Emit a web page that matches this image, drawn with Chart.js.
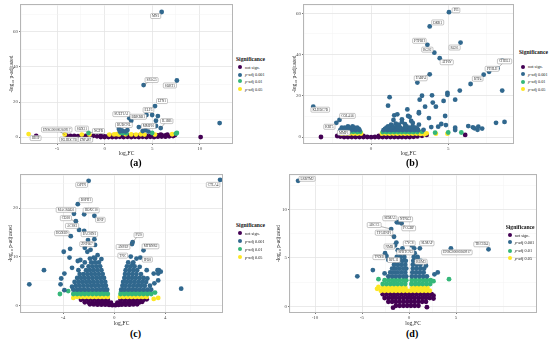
<!DOCTYPE html>
<html>
<head>
<meta charset="utf-8">
<script src="https://cdn.jsdelivr.net/npm/chart.js@4.4.0/dist/chart.umd.min.js"></script>
<style>
  body { margin: 0; width: 550px; height: 341px; background: #fff; position: relative; overflow: hidden;
         font-family: "Liberation Serif", "DejaVu Serif", serif; }
  canvas { position: absolute; }
  .lg-title { position: absolute; font-weight: bold; font-size: 5.6px; line-height: 6px; color: #111; white-space: nowrap; }
  .lg-item { position: absolute; font-size: 4.3px; line-height: 5px; color: #222; white-space: nowrap; }
  .lg-dot { position: absolute; width: 4.4px; height: 4.4px; border-radius: 50%; }
  .cap { position: absolute; font-weight: bold; font-size: 10px; line-height: 11px; color: #000; }
</style>
</head>
<body>
<canvas id="chartA"></canvas>
<canvas id="chartB"></canvas>
<canvas id="chartC"></canvas>
<canvas id="chartD"></canvas>

<script>
// legend / colours
const sigLabels = ['not sign.', 'p-adj 0.001', 'p-adj 0.01', 'p-adj 0.05'];
const sigColors = ['#440154', '#31688e', '#35b779', '#fde725'];

// ---- panel (a) : x,y pairs ----
const aNotSig = [-4.0,0.8, -3.6,0.6, -3.2,0.7, -2.8,0.5, -2.4,0.8, -2.0,0.6, -1.6,0.5, -1.2,0.7, -0.8,0.4,
  -0.4,0, -0.4,0.6, 0,0, 0,0.4, 0.4,0, 0.4,0.6, 0.8,0, 0.8,0.7, 1.2,0, 1.2,0.8, 1.6,0.1, 1.6,0.9,
  2.0,0, 2.0,0.8, 2.4,0.1, 2.4,0.9, 2.8,0, 2.8,0.7, 3.2,0.1, 3.2,0.9, 3.6,0, 3.6,0.7, 4.0,0.1, 4.0,0.8,
  4.4,0, 4.4,0.6, 4.8,0.1, 4.8,0.7, 5.2,0, 5.2,0.8, 5.6,0.2, 5.6,0.9, 6.0,0.3, 6.0,1.1, 6.4,0.2, 6.4,0.9,
  6.8,0.4, 7.2,0.6, 7.4,1.1, 5.9,1.4, 6.6,1.3, 10.1,0, -7.2,0.6, -2.7,0.3];
const aP001 = [6.0,71.4, 4.1,29.7, 7.6,32.3, 5.3,17.7, 4.4,12.6, 5.0,12.6, 5.6,12.0, 2.6,10.8, 2.8,9.3,
  5.4,9.3, 5.4,6.3, 5.9,5.1, 3.6,5.7, 4.0,3.4, 4.3,4.0, 1.5,4.6, 2.4,4.0, 12.1,8.0, 1.6,3.2, 1.9,3.4,
  2.2,3.2, 1.8,3.8, 4.6,3.1];
const aP01 = [5.0,2.3, 7.6,2.3, -1.7,2.3, 1.9,2.2, 2.1,2.6, 1.7,2.4, 2.3,2.1, 7.5,2.0];
const aP05 = [-8.0,1.7, -4.2,1.4, -2.4,1.4, -1.6,1.4, 0.5,1.4, 1.0,1.5, 1.3,1.7, 1.5,1.4, 2.2,1.6, 2.8,1.5,
  3.3,1.4, 3.8,1.6, 4.2,1.4, 5.3,1.4, 7.1,1.6];
const aGenes = ['MN1', 'SPAG5', 'SORT1', 'LTN1', 'ELF3', 'SULT1A1', 'BDKRB1', 'IL1RB', 'RUBCNL', 'MMP10',
  'ENSG00000260917', 'SOX21', 'NGFR', 'HHIP', 'KLHDC7B', 'ZNF487'];
const aGeneXY = [6.0,71.4, 4.1,29.7, 7.6,32.3, 5.3,17.7, 4.4,12.6, 2.6,10.8, 2.8,9.3, 5.9,5.1, 1.5,4.6, 4.3,4.0,
  -4.2,1.4, -2.4,1.4, -1.7,2.3, -8.0,1.7, -2.7,0.3, -1.6,1.4];

// ---- panel (b) ----
const bNotSig = [-2.0,0.2, -2.0,0.9, -1.75,0, -1.75,0.6, -1.75,1.2, -1.5,0, -1.5,0.6, -1.5,1.2, -1.25,0,
  -1.25,0.6, -1.25,1.2, -1.0,0, -1.0,0.6, -1.0,1.2, -0.75,0, -0.75,0.6, -0.75,1.1, -0.5,0, -0.5,0.5,
  -0.25,0, 0,-0.1, 0.25,0, 0.5,0, 0.5,0.5, 0.75,0, 0.75,0.6, 0.75,1.1, 1.0,0, 1.0,0.6, 1.0,1.2, 1.25,0,
  1.25,0.6, 1.25,1.2, 1.5,0, 1.5,0.6, 1.5,1.2, 1.75,0, 1.75,0.6, 1.75,1.2, 2.0,0, 2.0,0.6, 2.0,1.2,
  2.25,0, 2.25,0.6, 2.25,1.2, 2.5,0, 2.5,0.6, 2.5,1.2, 2.75,0.1, 2.75,0.7, 2.75,1.2, 3.0,0.3, 3.0,0.9,
  3.3,0.6, 3.6,1.0, -3.25,0, 6.1,1.0, -2.2,0.5];
const bP001 = [5.05,60.5, 3.8,53.6, 3.65,44.7, 5.8,45.8, 4.1,40.9, 4.45,38.2, 3.8,30.4, 3.0,26.4, 8.5,37.0,
  8.2,33.3, 7.65,31.6, 7.3,30.2, 6.45,25.7, 8.5,22.5, 5.75,22.5, 4.95,21.4, 4.95,20.5, 1.2,19.3, 3.95,20.2,
  3.3,20.0, 3.15,18.1, 5.45,18.1, 4.7,17.5, 4.0,16.7, 1.1,15.2, 3.5,14.7, 2.35,13.4, 4.2,14.7, 3.1,12.1,
  3.1,11.5, 1.5,10.5, 2.4,10.2, 2.5,9.8, 4.8,10.2, 3.75,9.2, 2.0,8.6, 1.45,8.3, 1.6,6.5, 4.55,6.3, 4.85,5.8,
  4.35,5.0, 5.45,4.5, 5.45,3.4, 6.3,5.3, 6.6,4.7, 6.7,4.2, 6.95,5.0, 7.2,4.1, 6.9,3.5, 8.1,6.9, 8.65,7.3,
  -2.25,6.9, -2.05,8.3, -3.75,14.7, -1.9,4.5, 1.7,11.0, 2.6,7.8, 2.0,7.3, 2.7,6.8, 2.2,6.2, 3.9,4.8, 3.4,3.5,
  -2.0,3.3, -1.75,3.3, -1.5,3.3, -1.25,3.3, -1.0,3.3, -0.75,3.3, -1.9,3.9, -1.6,3.9, -1.3,3.9, -1.0,3.9,
  -0.8,3.9, -1.7,4.5, -1.4,4.5, -1.1,4.5, -0.9,4.5, -1.5,5.1, -1.2,5.1,
  0.8,3.3, 1.05,3.3, 1.3,3.3, 1.55,3.3, 1.8,3.3, 2.05,3.3, 2.3,3.3, 2.55,3.3, 2.8,3.3, 3.05,3.3,
  0.9,3.9, 1.2,3.9, 1.5,3.9, 1.8,3.9, 2.1,3.9, 2.4,3.9, 2.7,3.9, 3.0,3.9, 1.0,4.5, 1.3,4.5, 1.6,4.5,
  1.9,4.5, 2.2,4.5, 2.5,4.5, 2.9,4.5, 1.1,5.2, 1.4,5.2, 1.7,5.2, 2.3,5.2, 2.7,5.2, 1.3,6.0, 1.8,6.0, 3.1,6.0];
const bP01 = [-1.9,2.4, -1.65,2.5, -1.4,2.4, -1.15,2.5, -0.9,2.4, -0.7,2.5, -1.8,2.8, -1.5,2.9, -1.2,2.8,
  -0.9,2.9, 0.75,2.4, 1.0,2.4, 1.25,2.4, 1.5,2.4, 1.75,2.4, 2.0,2.4, 2.25,2.4, 2.5,2.4, 2.75,2.4, 3.0,2.4,
  0.85,2.8, 1.15,2.8, 1.45,2.8, 1.75,2.8, 2.05,2.8, 2.35,2.8, 2.65,2.8, 4.15,2.1, 5.0,2.2, 5.85,2.2, 3.3,2.6];
const bP05 = [-1.9,1.6, -1.65,1.7, -1.4,1.6, -1.15,1.7, -0.9,1.6, -0.65,1.7, 0.7,1.6, 0.95,1.7, 1.2,1.6,
  1.45,1.7, 1.7,1.6, 1.95,1.7, 2.2,1.6, 2.45,1.7, 2.7,1.6, 2.95,1.7, 3.2,1.5, 3.45,1.3, 4.2,1.6, 4.95,1.6, 3.6,1.8];
const bGenes = ['PI3', 'DKK1', 'PTPRH', 'RGS2', 'RGS1', 'ATP6V', 'FABP4', 'CHI3L1', 'PTHLH', 'RTP4',
  'KLHDC7B', 'COL4A6', 'KRT5', 'MMP1'];
const bGeneXY = [5.05,60.5, 3.8,53.6, 3.65,44.7, 4.1,40.9, 5.8,45.8, 4.45,38.2, 3.8,30.4, 8.2,33.3, 7.65,31.6,
  7.3,30.2, -3.75,14.7, -2.05,8.3, -2.25,6.9, -1.9,4.5];

// ---- panel (c) ----
const cNotSig = [-2.6,1.1, -2.3,1.1, -2.0,1.1, -1.7,1.1, -1.4,1.1, -1.1,1.1, -0.8,1.1, -0.5,1.1, 0.5,1.1,
  0.8,1.1, 1.1,1.1, 1.4,1.1, 1.7,1.1, 2.0,1.1, 2.3,1.1, 2.55,1.2,
  -2.3,0.6, -2.0,0.6, -1.7,0.6, -1.4,0.6, -1.1,0.6, -0.8,0.6, -0.5,0.6, -0.25,0.5, 0.25,0.5, 0.5,0.6,
  0.8,0.6, 1.1,0.6, 1.4,0.6, 1.7,0.6, 2.0,0.6, 2.2,0.7,
  -1.9,0.2, -1.6,0.15, -1.3,0.1, -1.0,0.1, -0.7,0.1, -0.4,0.05, -0.15,0, 0.1,0, 0.35,0.05, 0.6,0.1,
  0.9,0.1, 1.2,0.1, 1.5,0.15, 1.8,0.2];
const cP001 = [-2.0,25.6, 8.3,25.8, -2.85,20.8, -3.15,18.8, -2.35,18.7, -1.55,18.4, -3.0,17.3, -2.75,15.5,
  -2.35,15.3, -1.95,14.6, -3.4,14.2, -1.55,13.6, -2.05,13.4, -3.95,11.0, -3.45,11.6, -5.5,7.2, -6.65,4.3,
  5.25,3.4, 1.45,13.0, 1.4,12.6, 2.3,11.3, 2.05,9.8, 1.3,10.0, 3.4,7.2, 3.45,6.5,
  -3.5,9.8, -3.3,7.7, -3.9,6.5, -4.15,5.5, -4.2,4.3, -3.9,3.1, -3.3,3.8, -2.85,9.1, -2.65,9.3, -2.1,11.0,
  -1.85,11.4, -1.5,12.4, -2.3,11.8, -1.3,10.3, -1.0,9.5, -1.6,9.8,
  1.75,9.6, 2.55,7.2, 3.1,6.5, 2.0,7.9, 1.45,8.6, 3.45,5.1, 3.15,4.5, 2.6,5.5, 3.65,6.9, 3.5,7.2,
  -3.2,3.2, -2.9,3.2, -2.6,3.2, -2.3,3.2, -2.0,3.2, -1.7,3.2, -1.4,3.2, -1.1,3.2, -0.8,3.2, -0.55,3.2,
  -3.0,4.0, -2.7,4.0, -2.4,4.0, -2.1,4.0, -1.8,4.0, -1.5,4.0, -1.2,4.0, -0.9,4.0, -0.65,4.0,
  -3.1,4.8, -2.8,4.8, -2.5,4.8, -2.2,4.8, -1.9,4.8, -1.6,4.8, -1.3,4.8, -1.0,4.8, -0.7,4.8,
  -2.9,5.6, -2.6,5.6, -2.3,5.6, -2.0,5.6, -1.7,5.6, -1.4,5.6, -1.1,5.6, -0.8,5.6,
  -2.7,6.4, -2.4,6.4, -2.1,6.4, -1.8,6.4, -1.5,6.4, -1.2,6.4, -0.9,6.4,
  -2.8,7.2, -2.2,7.2, -1.9,7.2, -1.6,7.2, -1.3,7.2, -1.0,7.2,
  -2.5,8.0, -2.0,8.0, -1.7,8.0, -1.4,8.0, -1.1,8.0, -2.3,8.8, -1.8,8.8, -1.5,8.8, -1.2,8.8, -1.9,9.6, -1.5,9.6,
  0.55,3.2, 0.8,3.2, 1.1,3.2, 1.4,3.2, 1.7,3.2, 2.0,3.2, 2.3,3.2, 2.6,3.2, 2.9,3.2,
  0.65,4.0, 0.9,4.0, 1.2,4.0, 1.5,4.0, 1.8,4.0, 2.1,4.0, 2.4,4.0, 2.8,4.0,
  0.7,4.8, 1.0,4.8, 1.3,4.8, 1.6,4.8, 1.9,4.8, 2.2,4.8, 2.5,4.8,
  0.8,5.6, 1.1,5.6, 1.4,5.6, 1.7,5.6, 2.0,5.6, 2.3,5.6, 0.85,6.4, 1.15,6.4, 1.45,6.4, 1.75,6.4, 2.1,6.4,
  0.9,7.2, 1.2,7.2, 1.5,7.2, 1.8,7.2, 1.0,8.0, 1.3,8.0, 1.6,8.0, 1.1,8.8, 1.5,8.8];
const cP01 = [-3.2,2.3, -2.9,2.3, -2.6,2.3, -2.3,2.3, -2.0,2.3, -1.7,2.3, -1.4,2.3, -1.1,2.3, -0.8,2.3, -0.5,2.3,
  -3.0,2.8, -2.7,2.8, -2.4,2.8, -2.1,2.8, -1.8,2.8, -1.5,2.8, -1.2,2.8, -0.9,2.8, -0.6,2.8,
  0.5,2.3, 0.8,2.3, 1.1,2.3, 1.4,2.3, 1.7,2.3, 2.0,2.3, 2.3,2.3, 2.6,2.3, 2.9,2.3,
  0.55,2.8, 0.85,2.8, 1.15,2.8, 1.45,2.8, 1.75,2.8, 2.05,2.8, 2.35,2.8, 2.7,2.8, -4.25,2.3, -3.6,2.9, 3.2,2.6];
const cP05 = [-2.9,1.7, -2.6,1.7, -2.3,1.7, -2.0,1.7, -1.7,1.7, -1.4,1.7, -1.1,1.7, -0.8,1.7, -0.5,1.7,
  0.45,1.7, 0.75,1.7, 1.05,1.7, 1.35,1.7, 1.65,1.7, 1.95,1.7, 2.25,1.7, 2.55,1.7, -3.2,1.5, 3.1,1.3, 3.45,1.5];
const cGenes = ['OPTN', 'CTLA4', 'BSPH1', 'MACROD2', 'HOXC10', 'CD38', 'BNP', 'ACSS3', 'HOXB9', 'PACSIN1',
  'ZNF667', 'FUS', 'ANPEP', 'MTRNR2', 'TNC', 'IPO8'];
const cGeneXY = [-2.0,25.6, 8.3,25.8, -2.85,20.8, -3.15,18.8, -2.35,18.7, -3.0,17.3, -1.55,18.4, -2.75,15.5,
  -3.4,14.2, -1.55,13.6, -2.05,13.4, 1.45,13.0, 1.4,12.6, 2.3,11.3, 1.3,10.0, 2.05,9.8];

// ---- panel (d) ----
const dNotSig = [-2.8,1.25, -2.4,1.25, -2.0,1.25, -1.6,1.25, -1.2,1.25, -0.8,1.25, -0.4,1.25, 0,1.25, 0.4,1.25,
  0.8,1.25, 1.2,1.25, 1.6,1.25, 2.0,1.25, 2.4,1.25,
  -2.6,0.85, -2.2,0.85, -1.8,0.85, -1.4,0.85, -1.0,0.85, -0.6,0.85, -0.2,0.85, 0.2,0.85, 0.6,0.85, 1.0,0.85,
  1.4,0.85, 1.8,0.85, 2.2,0.85,
  -2.2,0.45, -1.8,0.45, -1.4,0.45, -1.0,0.45, -0.6,0.45, -0.2,0.45, 0.2,0.45, 0.6,0.45, 1.0,0.45, 1.4,0.45, 1.8,0.45,
  -1.4,0.05, -1.0,0.05, -0.6,0.05, -0.2,0.05, 0.2,0.05, 0.6,0.05, 1.0,0.05, 2.6,1.1, -1.7,-0.15, 1.9,-0.1, 2.6,0.8];
const dP001 = [-11.8,13.0, -1.3,8.7, -1.1,8.7, -0.8,8.6, -1.9,8.0, -1.6,7.2, -1.35,6.6, -0.7,6.0, 0.55,6.0,
  1.15,6.0, 4.45,6.0, 8.45,5.9, -2.55,5.5, 1.8,4.2, -3.85,3.75, 3.05,3.5, 2.7,3.3, -5.5,3.1, -2.4,5.2,
  -2.2,4.8, -1.2,5.8, -1.2,5.0, 0.9,5.0, 1.4,4.6, -2.6,3.4, -1.5,6.3, 0.3,6.3,
  -2.2,3.1, -1.8,3.1, -1.4,3.1, -1.0,3.1, -0.6,3.1, -0.3,3.1, 0.3,3.1, 0.7,3.1, 1.1,3.1, 1.5,3.1, 1.9,3.1,
  -2.0,3.5, -1.6,3.5, -1.2,3.5, -0.8,3.5, -0.4,3.5, 0.35,3.5, 0.75,3.5, 1.15,3.5, 1.55,3.5,
  -1.8,3.9, -1.4,3.9, -1.0,3.9, -0.6,3.9, -0.3,3.9, 0.4,3.9, 0.8,3.9, 1.2,3.9, 1.6,3.9,
  -1.6,4.3, -1.2,4.3, -0.8,4.3, -0.4,4.3, 0.4,4.3, 0.8,4.3, 1.2,4.3,
  -1.5,4.7, -1.1,4.7, -0.7,4.7, -0.35,4.7, 0.45,4.7, 0.85,4.7, 1.25,4.7,
  -1.3,5.1, -0.9,5.1, -0.5,5.1, 0.5,5.1, 0.9,5.1, -1.0,5.5, -0.5,5.5, 0.6,5.5];
const dP01 = [-2.8,2.3, -2.4,2.3, -2.0,2.3, -1.6,2.3, -1.2,2.3, -0.8,2.3, -0.4,2.3, 0.25,2.3, 0.65,2.3,
  1.05,2.3, 1.45,2.3, 1.85,2.3, 2.25,2.3,
  -2.6,2.7, -2.2,2.7, -1.8,2.7, -1.4,2.7, -1.0,2.7, -0.6,2.7, -0.3,2.7, 0.3,2.7, 0.7,2.7, 1.1,2.7, 1.5,2.7,
  1.9,2.7, 2.3,2.7, -3.25,2.8, 4.25,2.8, 2.6,2.6];
const dP05 = [-3.0,1.6, -2.6,1.6, -2.2,1.6, -1.8,1.6, -1.4,1.6, -1.0,1.6, -0.6,1.6, -0.2,1.6, 0.2,1.6, 0.6,1.6,
  1.0,1.6, 1.4,1.6, 1.8,1.6, 2.2,1.6,
  -2.8,1.95, -2.4,1.95, -2.0,1.95, -1.6,1.95, -1.2,1.95, -0.8,1.95, -0.4,1.95, 0.35,1.95, 0.75,1.95,
  1.15,1.95, 1.55,1.95, 1.95,1.95, -3.25,2.0, -3.4,1.8];
const dGenes = ['LRRTM2', 'SEMA3', 'NTNG2', 'ABCC1', 'TP53INP1', 'FCGBP', 'NMB', 'CYCS', 'SLMAP',
  'SPRTCN3', 'TNXB', 'RPL11', 'RBM3', 'ENSG00000260917', 'TBC1D4'];
const dGeneXY = [-11.8,13.0, -1.3,8.7, -0.8,8.6, -1.9,8.0, -1.6,7.2, -1.1,8.7, -1.35,6.6, 0.55,6.0, 1.15,6.0,
  -0.7,6.0, -2.55,5.5, -1.2,5.0, 1.8,4.2, 4.45,6.0, 8.45,5.9];

// label box offsets from the point, in px
const aGeneOff = [-6,4, 8,-5, -7,5, 7,-5, 2,-5, -8,-4, 7,-4, 6,-7, 5,-4, 3,-4, -8,-5, 0,-6, 10,-2, 7,4, -10,3, -4,5];
const bGeneOff = [7,-2, 8,-4, -8,-4, -7,-3, -6,5, 7,4, -9,4, 7,-7, 3,-3, -6,4, 7,3, 8,-4, -7,4, 2,5];
const cGeneOff = [-7,4, -7,5, 8,-4, -8,-4, 7,-4, -10,-3, 6,4, -7,-4, -9,-3, -5,-5, -1,4, 6,-7, -9,3, 7,-4, -8,-1, 7,2];
const dGeneOff = [9,-2, -7,-4, 4,-4, -17,-4, -10,-4, 10,6, -7,4, -5,-5, 7,-5, 3,4, -6,4, -4,2, -5,-4, 6,4, -7,-5];

const SERIF = '"Liberation Serif", "DejaVu Serif", serif';

function pairs(a) {
  const out = [];
  for (let i = 0; i < a.length; i += 2) out.push({ x: a[i], y: a[i + 1] });
  return out;
}

const tagData = {
  chartA: [aGenes, aGeneXY, aGeneOff],
  chartB: [bGenes, bGeneXY, bGeneOff],
  chartC: [cGenes, cGeneXY, cGeneOff],
  chartD: [dGenes, dGeneXY, dGeneOff]
};

// panel border + repelled gene labels
const geneTags = {
  id: 'geneTags',
  afterDatasetsDraw(chart) {
    const { ctx, chartArea: ca, scales: { x, y } } = chart;
    ctx.save();
    ctx.strokeStyle = '#b5b5b5';
    ctx.lineWidth = 1;
    ctx.strokeRect(ca.left - 0.5, ca.top - 0.5, ca.width + 1, ca.height + 1);
    const [names, xy, off] = tagData[chart.canvas.id];
    ctx.font = '3.4px ' + SERIF;
    ctx.textAlign = 'center';
    ctx.textBaseline = 'middle';
    names.forEach((name, i) => {
      const px = x.getPixelForValue(xy[2 * i]), py = y.getPixelForValue(xy[2 * i + 1]);
      const bx = px + off[2 * i], by = py + off[2 * i + 1];
      const w = ctx.measureText(name).width + 3, h = 5;
      if (Math.hypot(off[2 * i], off[2 * i + 1]) > 9) {
        ctx.strokeStyle = '#666'; ctx.lineWidth = 0.5;
        ctx.beginPath(); ctx.moveTo(px, py); ctx.lineTo(bx, by); ctx.stroke();
      }
      ctx.fillStyle = '#fff';
      ctx.strokeStyle = '#8c8c8c';
      ctx.lineWidth = 0.5;
      ctx.beginPath();
      ctx.roundRect(bx - w / 2, by - h / 2, w, h, 1);
      ctx.fill(); ctx.stroke();
      ctx.fillStyle = '#333';
      ctx.fillText(name, bx, by + 0.2);
    });
    ctx.restore();
  }
};

function axis(min, max, step, majors, title, size, titlePad, isY) {
  const isMajor = v => majors.some(m => Math.abs(m - v) < 1e-6);
  return {
    type: 'linear', min, max,
    ticks: {
      stepSize: step, autoSkip: false, maxRotation: 0, padding: 1, color: '#4d4d4d',
      font: { family: SERIF, size: 5 },
      callback: v => isMajor(v) ? String(v) : ''
    },
    grid: {
      color: c => (c.tick && isMajor(c.tick.value)) ? '#e4e4e4' : '#f2f2f2',
      lineWidth: c => (c.tick && isMajor(c.tick.value)) ? 0.8 : 0.5,
      tickLength: 2,
      tickColor: c => (c.tick && isMajor(c.tick.value)) ? '#555' : 'rgba(0,0,0,0)'
    },
    border: { display: false },
    title: { display: true, text: title, color: '#1a1a1a', font: { family: SERIF, size: 5.5 }, padding: titlePad },
    afterFit: s => { if (isY) s.width = size; else s.height = size; }
  };
}

function volcano(id, box, series, xa, ya) {
  const cv = document.getElementById(id);
  cv.width = box.w; cv.height = box.h;
  cv.style.left = box.left + 'px'; cv.style.top = box.top + 'px';
  const order = [1, 2, 3, 0];   // blue drawn on top
  new Chart(cv, {
    type: 'scatter',
    data: {
      datasets: order.map(k => ({
        label: sigLabels[k], data: pairs(series[k]),
        backgroundColor: sigColors[k], borderWidth: 0, pointRadius: 2.4, pointHoverRadius: 2.4
      }))
    },
    options: {
      responsive: false, animation: false, devicePixelRatio: 1,
      layout: { padding: { top: 5, right: 3, left: 0, bottom: 0 } },
      plugins: { legend: { display: false }, tooltip: { enabled: false } },
      scales: {
        x: axis(xa[0], xa[1], xa[2], xa[3], 'log\u2082FC', box.xh, { top: 0, bottom: box.xtp }, false),
        y: axis(ya[0], ya[1], ya[2], ya[3], '-log\u2081\u2080 p-adjusted', box.yw, { top: box.ytp, bottom: 0 }, true)
      }
    },
    plugins: [geneTags]
  });
}

volcano('chartA', { left: 0, top: 0, w: 235, h: 158, yw: 21, xh: 15, ytp: 8, xtp: 1 },
  [aNotSig, aP001, aP01, aP05], [-8.8, 13.4, 2.5, [-5, 0, 5, 10]], [-3.4, 75.4, 10, [0, 20, 40, 60]]);
volcano('chartB', { left: 275, top: 0, w: 241, h: 158, yw: 29, xh: 15, ytp: 16, xtp: 1 },
  [bNotSig, bP001, bP01, bP05], [-4.35, 9.2, 2.5, [0, 5]], [-2.9, 64, 10, [0, 20, 40, 60]]);
volcano('chartC', { left: 0, top: 170, w: 225, h: 157, yw: 21, xh: 15, ytp: 7, xtp: 0.5 },
  [cNotSig, cP001, cP01, cP05], [-7.3, 8.45, 2, [-4, 0, 4, 8]], [-1.4, 26.8, 5, [0, 10, 20]]);
volcano('chartD', { left: 275, top: 170, w: 264, h: 157, yw: 15, xh: 15, ytp: 0.5, xtp: 0.5 },
  [dNotSig, dP001, dP01, dP05], [-12.66, 13.5, 2.5, [-10, -5, 0, 5]], [-0.6, 13.6, 2.5, [0, 5, 10]]);

// legends and panel captions
const legendPos = [
  { x: 236, title: 58.7, items: [67, 74.7, 81.3, 89.3] },
  { x: 519, title: 52, items: [66.7, 74, 81.7, 89] },
  { x: 236, title: 225, items: [233.3, 241, 249.3, 257.3] },
  { x: 505.7, title: 226.7, items: [235, 242.3, 250.7, 258.3] }
];
legendPos.forEach(p => {
  const t = document.createElement('div');
  t.className = 'lg-title';
  t.textContent = 'Significance';
  t.style.left = p.x + 'px'; t.style.top = (p.title - 3) + 'px';
  document.body.appendChild(t);
  sigLabels.forEach((lab, k) => {
    const dot = document.createElement('div');
    dot.className = 'lg-dot';
    dot.style.background = sigColors[k];
    dot.style.left = (p.x + 2) + 'px'; dot.style.top = (p.items[k] - 2.2) + 'px';
    document.body.appendChild(dot);
    const it = document.createElement('div');
    it.className = 'lg-item';
    it.innerHTML = lab.replace(/^p-/, '<i>p</i>-');
    it.style.left = (p.x + 9) + 'px'; it.style.top = (p.items[k] - 2.5) + 'px';
    document.body.appendChild(it);
  });
});

const caps = ['(a)', '(b)', '(c)', '(d)'];
const capPos = [[130, 157], [406, 157], [130, 328], [406, 328]];
caps.forEach((c, i) => {
  const d = document.createElement('div');
  d.className = 'cap';
  d.textContent = c;
  d.style.left = capPos[i][0] + 'px'; d.style.top = capPos[i][1] + 'px';
  document.body.appendChild(d);
});
</script>
</body>
</html>
